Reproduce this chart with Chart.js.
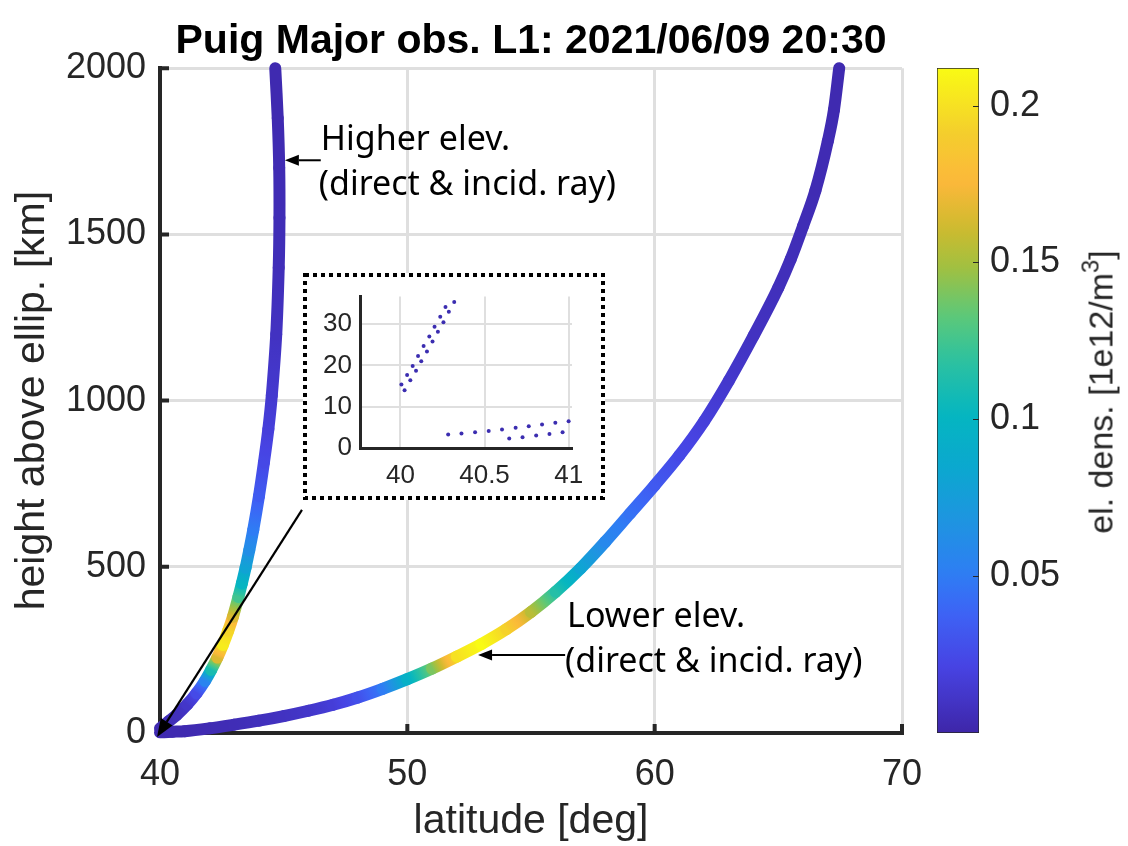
<!DOCTYPE html>
<html>
<head>
<meta charset="utf-8">
<script src="https://cdn.jsdelivr.net/npm/chart.js@4.4.1/dist/chart.umd.min.js"></script>
<style>
  html, body { margin: 0; padding: 0; background: #fff; }
  #wrap { position: relative; width: 1128px; height: 846px; overflow: hidden; background: #fff; }
  canvas { position: absolute; }
  #main { left: 0; top: 0; }
  #inset { left: 303px; top: 273px; }
  #cbar { left: 937px; top: 50px; }
  #cbarLabel {
    position: absolute; left: 1101px; top: 392px;
    transform: translate(-50%, -50%) rotate(-90deg);
    font: 34px "Liberation Sans", Arial, sans-serif; color: #262626; white-space: nowrap;
  }
  #cbarLabel sup { font-size: 0.7em; vertical-align: 0.6em; line-height: 0; }
</style>
</head>
<body>
<div id="wrap">
  <canvas id="main" width="1128" height="846"></canvas>
  <canvas id="inset" width="302" height="227"></canvas>
  <canvas id="cbar" width="191" height="700"></canvas>
  <div id="cbarLabel">el. dens. [1e12/m<sup>3</sup>]</div>
</div>
<script>
// Hodnoty

// vyšší elevace (strmý paprsek)
const hiLat = [40.0, 40.35, 40.68, 41.1, 41.48, 41.82, 42.07, 42.32, 42.54, 42.76, 42.95, 43.17, 43.31,
  43.46, 43.61, 43.77, 44.0, 44.2, 44.38, 44.52, 44.7, 44.8, 44.83, 44.82, 44.76, 44.66];
const hiHeight = [14, 35, 55, 86, 120, 157, 190, 227, 265, 308, 350, 409, 450,
  497, 550, 611, 712, 813, 914, 1015, 1200, 1400, 1550, 1700, 1850, 2000];
const hiDens = [0.003, 0.005, 0.007, 0.012, 0.025, 0.055, 0.11, 0.165, 0.205, 0.195, 0.165, 0.125, 0.1,
  0.08, 0.063, 0.05, 0.034, 0.024, 0.018, 0.014, 0.009, 0.006, 0.005, 0.004, 0.003, 0.003];

// nižší elevace (plochý paprsek)
const loLat = [40.0, 40.5, 41.0, 42.0, 43.0, 44.0, 45.0, 46.0, 47.0, 48.0, 49.0, 50.0, 51.0, 52.0, 53.0, 54.0,
  55.0, 56.0, 57.0, 58.0, 59.0, 60.0, 61.0, 62.0, 63.0, 64.0, 65.0, 65.5, 66.0, 66.5, 67.0, 67.25, 67.46];
const loHeight = [2, 3.8, 5.5, 14, 25, 37, 51, 67, 85, 107, 133, 162, 194, 230, 268, 312,
  364, 425, 495, 575, 660, 745, 835, 938, 1060, 1195, 1340, 1425, 1525, 1632, 1780, 1875, 2000];
const loDens = [0.003, 0.003, 0.003, 0.004, 0.005, 0.007, 0.009, 0.012, 0.017, 0.028, 0.05, 0.095, 0.14, 0.2, 0.212, 0.193,
  0.155, 0.115, 0.082, 0.058, 0.045, 0.033, 0.024, 0.018, 0.013, 0.009, 0.007, 0.006, 0.005, 0.004, 0.004, 0.003, 0.003];

// výřez u země (body paprsků)
const insetHiLat = [40.006, 40.025, 40.040, 40.059, 40.073, 40.093, 40.105, 40.124, 40.138, 40.158,
  40.172, 40.191, 40.203, 40.223, 40.237, 40.256, 40.268, 40.288, 40.320];
const insetHiHeight = [15.4, 14.0, 17.7, 16.4, 19.9, 18.7, 22.3, 21.0, 24.7, 23.4,
  27.0, 25.8, 29.4, 28.2, 31.8, 30.5, 34.2, 33.0, 35.4];
const insetLoLat = [40.284, 40.363, 40.444, 40.525, 40.604, 40.647, 40.685, 40.726, 40.763, 40.807,
  40.842, 40.886, 40.921, 40.964, 41.0];
const insetLoHeight = [3.3, 3.5, 3.8, 4.1, 4.5, 2.3, 4.9, 2.6, 5.3, 3.0, 5.7, 3.4, 6.1, 3.8, 6.5];

const mainXTicks = [40, 50, 60, 70];
const mainYTicks = [0, 500, 1000, 1500, 2000];
const insetXTicks = [40, 40.5, 41];
const insetYTicks = [0, 10, 20, 30];
const cbarTicks = [0.05, 0.1, 0.15, 0.2];
const densMax = 0.212;

const titleText = 'Puig Major obs. L1: 2021/06/09 20:30';

// popisky se šipkami (v jednotkách os)
const notes = [
  { lines: ['Higher elev.', '(direct & incid. ray)'], text: [46.5, 1783], from: [46.5, 1723], to: [45.05, 1723] },
  { lines: ['Lower elev.', '(direct & incid. ray)'], text: [56.46, 349], from: [56.38, 235], to: [52.86, 235] }
];
const insetArrow = { from: [45.74, 671], to: [39.88, -12] };

// parula-like colormap
const cmapPos = [0, 0.10, 0.18, 0.24, 0.32, 0.40, 0.48, 0.56, 0.63, 0.70, 0.76, 0.83, 0.90, 1];
const cmapHex = ['#3e26a8', '#4743e3', '#3d63f5', '#2e7ef4', '#1e95e0', '#0ba8cf', '#05b6c0', '#2dc1a0',
  '#5ec977', '#a1c041', '#cfba2e', '#fdb83b', '#f4cd2d', '#f9fb14'];
const cmapRgb = cmapHex.map(h => [1, 3, 5].map(i => parseInt(h.substr(i, 2), 16)));

function densColor(v) {
  const t = Math.max(0, Math.min(1, v / densMax));
  let i = 0;
  while (i < cmapPos.length - 2 && t > cmapPos[i + 1]) i++;
  const f = (t - cmapPos[i]) / (cmapPos[i + 1] - cmapPos[i]);
  const a = cmapRgb[i], b = cmapRgb[i + 1];
  const c = a.map((x, k) => Math.round(x + (b[k] - x) * f));
  return `rgb(${c[0]},${c[1]},${c[2]})`;
}

// barva úseku čáry podle hustoty na jeho koncích
function segGradient(dens) {
  return ctx => {
    const c = ctx.chart.ctx;
    const { p0, p1 } = ctx;
    const d0 = dens[ctx.p0DataIndex], d1 = dens[ctx.p1DataIndex];
    const g = c.createLinearGradient(p0.x, p0.y, p1.x, p1.y);
    for (let k = 0; k <= 8; k++) {
      g.addColorStop(k / 8, densColor(d0 + (d1 - d0) * k / 8));
    }
    return g;
  };
}

const FONT = '"Liberation Sans", Arial, Helvetica, sans-serif';
const NOTE_FONT = '"Noto Sans", "Open Sans", sans-serif';
const AXIS_COLOR = '#262626';
const GRID_COLOR = '#dfdfdf';

const fixTicks = list => scale => { scale.ticks = list.map(v => ({ value: v })); };

// krátké značky dovnitř grafu (jako v MATLABu)
const ticksIn = {
  id: 'ticksIn',
  beforeDatasetsDraw(chart, args, opts) {
    const { ctx, chartArea: a, scales: { x, y } } = chart;
    ctx.save();
    ctx.strokeStyle = AXIS_COLOR;
    ctx.lineWidth = opts.width;
    ctx.beginPath();
    opts.xTicks.forEach(v => {
      const px = x.getPixelForValue(v);
      ctx.moveTo(px, a.bottom);
      ctx.lineTo(px, a.bottom - opts.len);
    });
    opts.yTicks.forEach(v => {
      const py = y.getPixelForValue(v);
      ctx.moveTo(a.left, py);
      ctx.lineTo(a.left + opts.len, py);
    });
    ctx.stroke();
    ctx.restore();
  }
};

function drawArrow(ctx, x0, y0, x1, y1, width, headLen, headHalf) {
  const ang = Math.atan2(y1 - y0, x1 - x0);
  const bx = x1 - headLen * Math.cos(ang), by = y1 - headLen * Math.sin(ang);
  ctx.lineWidth = width;
  ctx.beginPath();
  ctx.moveTo(x0, y0);
  ctx.lineTo(bx, by);
  ctx.stroke();
  ctx.beginPath();
  ctx.moveTo(x1, y1);
  ctx.lineTo(bx + headHalf * Math.sin(ang), by - headHalf * Math.cos(ang));
  ctx.lineTo(bx - headHalf * Math.sin(ang), by + headHalf * Math.cos(ang));
  ctx.closePath();
  ctx.fill();
}

const annotations = {
  id: 'annotations',
  afterDatasetsDraw(chart) {
    const { ctx, scales: { x, y } } = chart;
    const px = p => [x.getPixelForValue(p[0]), y.getPixelForValue(p[1])];
    ctx.save();
    ctx.fillStyle = '#000';
    ctx.strokeStyle = '#000';
    ctx.font = `34px ${NOTE_FONT}`;
    ctx.textBaseline = 'middle';
    ctx.textAlign = 'left';
    notes.forEach(n => {
      const [tx, ty] = px(n.text);
      n.lines.forEach((s, i) => ctx.fillText(s, tx - (i ? 2 : 0), ty + i * 45));
      const [fx, fy] = px(n.from), [ex, ey] = px(n.to);
      drawArrow(ctx, fx, fy, ex, ey, 2, 14, 5.5);
    });
    const [ax, ay] = px(insetArrow.from), [bx, by] = px(insetArrow.to);
    drawArrow(ctx, ax, ay, bx, by, 2.2, 18, 7);
    ctx.restore();
  }
};

const rayStyle = {
  showLine: true,
  pointRadius: 0,
  borderWidth: 12,
  borderColor: '#3e26a8',
  borderCapStyle: 'round',
  borderJoinStyle: 'round',
  clip: false
};

const mainChart = new Chart(document.getElementById('main'), {
  type: 'scatter',
  data: {
    datasets: [
      Object.assign({
        label: 'Higher elev.',
        data: hiLat.map((v, i) => ({ x: v, y: hiHeight[i] })),
        segment: { borderColor: segGradient(hiDens) },
        tension: 0.3
      }, rayStyle),
      Object.assign({
        label: 'Lower elev.',
        data: loLat.map((v, i) => ({ x: v, y: loHeight[i] })),
        segment: { borderColor: segGradient(loDens) },
        cubicInterpolationMode: 'monotone'
      }, rayStyle)
    ]
  },
  options: {
    responsive: false,
    animation: false,
    events: [],
    layout: { padding: { left: 0, right: 226, top: 0, bottom: 0 } },
    plugins: {
      legend: { display: false },
      tooltip: { enabled: false },
      title: {
        display: true,
        text: titleText,
        fullSize: false,
        color: '#000',
        font: { family: FONT, size: 41, weight: 'bold', lineHeight: 1.2 },
        padding: { top: 17, bottom: 2 }
      },
      ticksIn: { xTicks: mainXTicks, yTicks: mainYTicks, len: 9, width: 4 }
    },
    scales: {
      x: {
        type: 'linear',
        min: 40,
        max: 70,
        afterBuildTicks: fixTicks(mainXTicks),
        afterFit: s => { s.height = 113; },
        grid: { color: GRID_COLOR, lineWidth: 3, drawTicks: false },
        border: { color: AXIS_COLOR, width: 4 },
        ticks: { color: AXIS_COLOR, font: { family: FONT, size: 36 }, padding: 20, callback: v => String(v) },
        title: { display: true, text: 'latitude [deg]', color: AXIS_COLOR, font: { family: FONT, size: 41 }, padding: { top: 0, bottom: 0 } }
      },
      y: {
        type: 'linear',
        min: 0,
        max: 2000,
        afterBuildTicks: fixTicks(mainYTicks),
        afterFit: s => { s.width = 160; },
        grid: { color: GRID_COLOR, lineWidth: 3, drawTicks: false },
        border: { color: AXIS_COLOR, width: 4 },
        ticks: { color: AXIS_COLOR, font: { family: FONT, size: 36 }, padding: 14, callback: v => String(v) },
        title: { display: true, text: 'height above ellip. [km]', color: AXIS_COLOR, font: { family: FONT, size: 41 }, padding: { top: 8, bottom: 0 } }
      }
    }
  },
  plugins: [ticksIn, annotations]
});

// výřez: bílé pozadí a tečkovaný rámeček
const insetFrame = {
  id: 'insetFrame',
  beforeDraw(chart) {
    const { ctx, width, height } = chart;
    ctx.save();
    ctx.fillStyle = '#fff';
    ctx.fillRect(0, 0, width, height);
    ctx.restore();
  },
  afterDraw(chart) {
    const { ctx, width, height } = chart;
    ctx.save();
    ctx.strokeStyle = '#000';
    ctx.lineWidth = 4;
    ctx.setLineDash([4, 4]);
    ctx.strokeRect(2, 2, width - 4, height - 4);
    ctx.restore();
  }
};

const insetChart = new Chart(document.getElementById('inset'), {
  type: 'scatter',
  data: {
    datasets: [
      { data: insetHiLat.map((v, i) => ({ x: v, y: insetHiHeight[i] })) },
      { data: insetLoLat.map((v, i) => ({ x: v, y: insetLoHeight[i] })) }
    ].map(d => Object.assign(d, {
      pointRadius: 2,
      pointBorderWidth: 0,
      pointBackgroundColor: '#3b2db0',
      clip: false
    }))
  },
  options: {
    responsive: false,
    animation: false,
    events: [],
    layout: { padding: { left: 0, right: 33, top: 22, bottom: 0 } },
    plugins: { legend: { display: false }, tooltip: { enabled: false } },
    scales: {
      x: {
        type: 'linear',
        min: 39.76,
        max: 41.02,
        afterBuildTicks: fixTicks(insetXTicks),
        afterFit: s => { s.height = 52; },
        grid: { color: GRID_COLOR, lineWidth: 2, drawTicks: false },
        border: { color: AXIS_COLOR, width: 3 },
        ticks: { color: AXIS_COLOR, font: { family: FONT, size: 26 }, padding: 12, callback: v => String(v) }
      },
      y: {
        type: 'linear',
        min: 0,
        max: 36.7,
        afterBuildTicks: fixTicks(insetYTicks),
        afterFit: s => { s.width = 57; },
        grid: { color: GRID_COLOR, lineWidth: 2, drawTicks: false },
        border: { color: AXIS_COLOR, width: 3 },
        ticks: { color: AXIS_COLOR, font: { family: FONT, size: 26 }, padding: 8, callback: v => String(v) }
      }
    }
  },
  plugins: [insetFrame]
});

// barevná škála
const cbarTicksIn = {
  id: 'cbarTicksIn',
  afterDatasetsDraw(chart) {
    const { ctx, chartArea: a, scales: { y } } = chart;
    ctx.save();
    ctx.strokeStyle = AXIS_COLOR;
    ctx.lineWidth = 1;
    ctx.beginPath();
    cbarTicks.forEach(v => {
      const py = Math.round(y.getPixelForValue(v)) + 0.5;
      ctx.moveTo(a.right, py);
      ctx.lineTo(a.right - 6, py);
    });
    ctx.stroke();
    ctx.restore();
  }
};

const cbarChart = new Chart(document.getElementById('cbar'), {
  type: 'bar',
  data: {
    labels: [''],
    datasets: [{
      data: [[0, densMax]],
      backgroundColor: c => {
        const chart = c.chart;
        const y = chart.scales.y;
        if (!chart.chartArea || !y) return '#3e26a8';
        const g = chart.ctx.createLinearGradient(0, y.getPixelForValue(0), 0, y.getPixelForValue(densMax));
        for (let k = 0; k <= 40; k++) g.addColorStop(k / 40, densColor(densMax * k / 40));
        return g;
      },
      borderColor: AXIS_COLOR,
      borderWidth: 1,
      borderSkipped: false,
      categoryPercentage: 1,
      barPercentage: 1
    }]
  },
  options: {
    responsive: false,
    animation: false,
    events: [],
    layout: { padding: { left: 0, right: 0, top: 18, bottom: 17 } },
    plugins: { legend: { display: false }, tooltip: { enabled: false } },
    scales: {
      x: { display: false },
      y: {
        position: 'right',
        min: 0,
        max: densMax,
        afterBuildTicks: fixTicks(cbarTicks),
        afterFit: s => { s.width = 149; s.paddingTop = 0; s.paddingBottom = 0; },
        grid: { display: false, drawTicks: false },
        border: { display: false },
        ticks: { color: AXIS_COLOR, font: { family: FONT, size: 36 }, padding: 11, callback: v => String(v) }
      }
    }
  },
  plugins: [cbarTicksIn]
});
</script>
</body>
</html>
